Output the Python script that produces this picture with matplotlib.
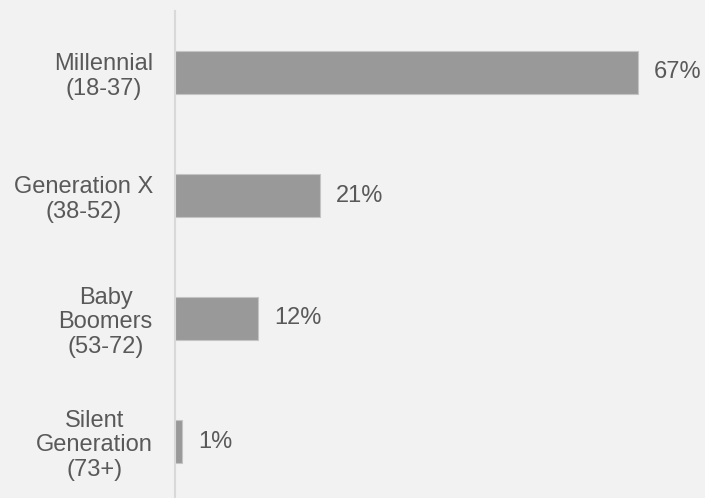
import matplotlib
matplotlib.use("Agg")
import matplotlib.pyplot as plt

categories = ["Millennial\n(18-37)", "Generation X\n(38-52)", "Baby\nBoomers\n(53-72)", "Silent\nGeneration\n(73+)"]
shares = [67, 21, 12, 1]
value_labels = ["67%", "21%", "12%", "1%"]

plt.rcParams["font.family"] = ["Liberation Sans", "DejaVu Sans"]

bg = "#f2f2f2"
text_color = "#595959"

fig = plt.figure(figsize=(7.05, 4.98), dpi=100, facecolor=bg)
ax = fig.add_axes([175 / 705, 1 - 503 / 498, 530 / 705, 492 / 498])
ax.set_facecolor(bg)

ypos = list(range(len(categories)))
ax.barh(ypos, shares, height=0.352, color="#999999", edgecolor="#c4c4c4", linewidth=0.8)

for y, v, lab in zip(ypos, shares, value_labels):
    ax.annotate(lab, xy=(v, y), xytext=(11.5, 0), textcoords="offset points",
                va="center", ha="left", fontsize=17, color=text_color)

ax.set_xlim(0, 76.7)
ax.set_ylim(3.5, -0.5)
ax.set_yticks(ypos)
ax.set_yticklabels(categories, fontsize=17, color=text_color)
for t in ax.get_yticklabels():
    t.set_multialignment("center")
    t.set_linespacing(1.15)
ax.tick_params(axis="y", length=0, pad=16)
ax.set_xticks([])

for side in ["top", "right", "bottom"]:
    ax.spines[side].set_visible(False)
ax.spines["left"].set_color("#d9d9d9")
ax.spines["left"].set_linewidth(1.5)

fig.savefig("out.png", dpi=100, facecolor=bg)
